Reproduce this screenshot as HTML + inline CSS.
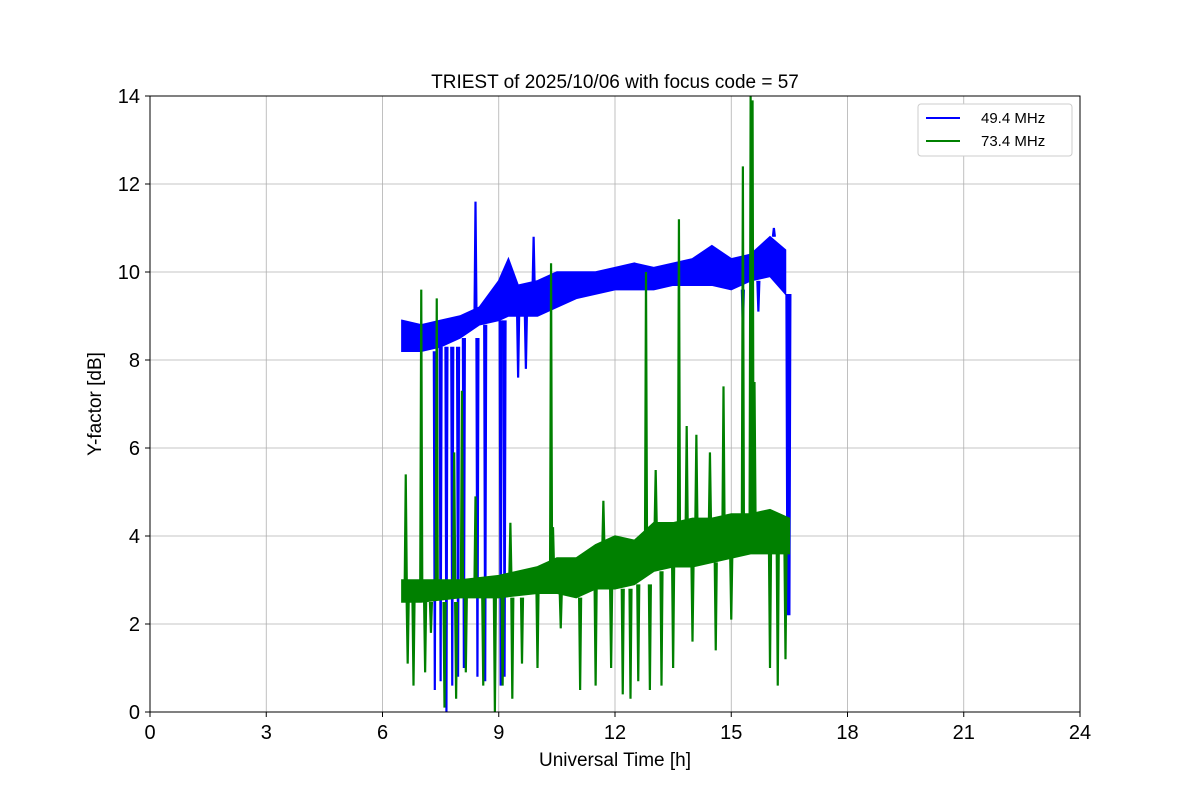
<!DOCTYPE html>
<html><head><meta charset="utf-8"><style>
body{margin:0;background:#fff}
svg text{font-family:"Liberation Sans","DejaVu Sans",sans-serif}
</style></head><body>
<svg id="chart" width="1200" height="800" xmlns="http://www.w3.org/2000/svg">
<g id="grid"></g>
<g id="series"></g>
<rect x="150" y="96" width="930" height="616" fill="none" stroke="#000" stroke-width="1"/>
<g id="ticks"></g>
<text x="615" y="88" font-size="19" text-anchor="middle">TRIEST of 2025/10/06 with focus code = 57</text>
<text x="615" y="766" font-size="19" text-anchor="middle">Universal Time [h]</text>
<text transform="translate(101,404) rotate(-90)" font-size="19" text-anchor="middle">Y-factor [dB]</text>
<g>
<rect x="918" y="104" width="154" height="52" rx="3" fill="#fff" stroke="#ccc"/>
<line x1="926" y1="118" x2="960" y2="118" stroke="#0000ff" stroke-width="2"/>
<text x="981" y="123" font-size="15">49.4 MHz</text>
<line x1="926" y1="141" x2="960" y2="141" stroke="#008000" stroke-width="2"/>
<text x="981" y="146" font-size="15">73.4 MHz</text>
</g>
</svg>
<script>
const xTicks=[0,3,6,9,12,15,18,21,24];
const yTicks=[0,2,4,6,8,10,12,14];
const blueT=[6.5,7,7.5,8,8.5,9,9.25,9.5,10,10.5,11,11.5,12,12.5,13,13.5,14,14.5,15,15.5,16,16.4];
const blueHi=[8.9,8.8,8.9,9.0,9.2,9.8,10.3,9.7,9.8,10.0,10.0,10.0,10.1,10.2,10.1,10.2,10.3,10.6,10.3,10.4,10.8,10.5];
const blueLo=[8.2,8.2,8.3,8.5,8.8,8.9,9.0,9.0,9.0,9.2,9.4,9.5,9.6,9.6,9.6,9.7,9.7,9.7,9.6,9.8,9.9,9.5];
const blueSpikeT=[7.35,7.5,7.65,7.8,7.95,8.1,8.4,8.45,8.65,9.05,9.15,9.5,9.7,9.9,15.3,15.7,16.1,16.45,16.5];
const blueSpikeV=[0.5,0.7,0,0.6,0.8,1.0,11.6,0.8,0.7,0.6,0.8,7.6,7.8,10.8,8.7,9.1,11.0,2.2,2.2];
const greenT=[6.5,7,8,9,10,10.5,11,11.5,12,12.5,13,13.5,14,14.5,15,15.5,16,16.5];
const greenHi=[3.0,3.0,3.0,3.1,3.3,3.5,3.5,3.8,4.0,3.9,4.3,4.3,4.4,4.4,4.5,4.5,4.6,4.4];
const greenLo=[2.5,2.5,2.6,2.6,2.7,2.7,2.6,2.8,2.8,2.9,3.2,3.3,3.3,3.4,3.5,3.6,3.6,3.6];
const greenSpikeT=[6.6,7.0,7.4,7.85,8.05,8.4,9.3,10.35,10.4,11.7,12.8,13.05,13.65,13.85,14.1,14.45,14.8,15.3,15.5,15.55,15.6,6.65,6.8,7.1,7.25,7.6,7.9,8.15,8.6,8.9,9.1,9.35,9.6,10.0,10.6,11.1,11.5,11.9,12.2,12.4,12.6,12.9,13.2,13.5,14.0,14.6,15.0,16.0,16.2,16.4];
const greenSpikeV=[5.4,9.6,9.4,5.9,7.3,4.9,4.3,10.2,4.2,4.8,10.0,5.5,11.2,6.5,6.3,5.9,7.4,12.4,14.0,13.9,7.5,1.1,0.6,0.9,1.8,0.1,0.3,0.9,0.6,0.0,0.6,0.3,1.1,1.0,1.9,0.5,0.6,1.0,0.4,0.3,0.7,0.5,0.6,1.0,1.6,1.4,2.1,1.0,0.6,1.2];
const NS="http://www.w3.org/2000/svg";
const X=t=>150+t/24*930, Y=v=>712-v/14*616;
function mk(tag,attrs,parent){const e=document.createElementNS(NS,tag);for(const k in attrs)e.setAttribute(k,attrs[k]);parent.appendChild(e);return e;}
const grid=document.getElementById('grid'),ticks=document.getElementById('ticks'),ser=document.getElementById('series');
xTicks.forEach(t=>{
 const g=mk('line',{x1:X(t),x2:X(t),y1:96,y2:712,stroke:'#b0b0b0','stroke-width':0.8},grid);
 
 
 const tk=mk('line',{x1:X(t),x2:X(t),y1:712,y2:717,stroke:'#000'},ticks);
 
 
 const l=mk('text',{x:X(t),y:739,'font-size':20,'text-anchor':'middle'},ticks);l.textContent=t;
 
 
});
yTicks.forEach(v=>{
 const g=mk('line',{x1:150,x2:1080,y1:Y(v),y2:Y(v),stroke:'#b0b0b0','stroke-width':0.8},grid);
 
 
 const tk=mk('line',{x1:145,x2:150,y1:Y(v),y2:Y(v),stroke:'#000'},ticks);
 
 
 const l=mk('text',{x:140,y:Y(v)+7,'font-size':20,'text-anchor':'end'},ticks);l.textContent=v;
 
 
});
function band(T,hi,lo,color,name){
 let pts=T.map((t,i)=>X(t)+','+Y(hi[i]));
 for(let i=T.length-1;i>=0;i--)pts.push(X(T[i])+','+Y(lo[i]));
 const p=mk('polygon',{points:pts.join(' '),fill:color,stroke:color,'stroke-width':1.5},ser);
 
 
}
function spikes(T,V,bT,hi,lo,color,name){
 T.forEach((t,i)=>{
  let j=0;while(j<bT.length-1&&bT[j+1]<=t)j++;
  const base=V[i]>hi[j]?hi[j]:lo[j];
  const s=mk('polyline',{points:`${X(t)-1},${Y(base)} ${X(t)},${Y(V[i])} ${X(t)+1},${Y(base)}`,fill:'none',stroke:color,'stroke-width':2.2},ser);
  
  
 });
}
band(blueT,blueHi,blueLo,'#0000ff','blue-49mhz');
spikes(blueSpikeT,blueSpikeV,blueT,blueHi,blueLo,'#0000ff','blue-49mhz');
band(greenT,greenHi,greenLo,'#008000','green-73mhz');
spikes(greenSpikeT,greenSpikeV,greenT,greenHi,greenLo,'#008000','green-73mhz');
</script>
</body></html>
